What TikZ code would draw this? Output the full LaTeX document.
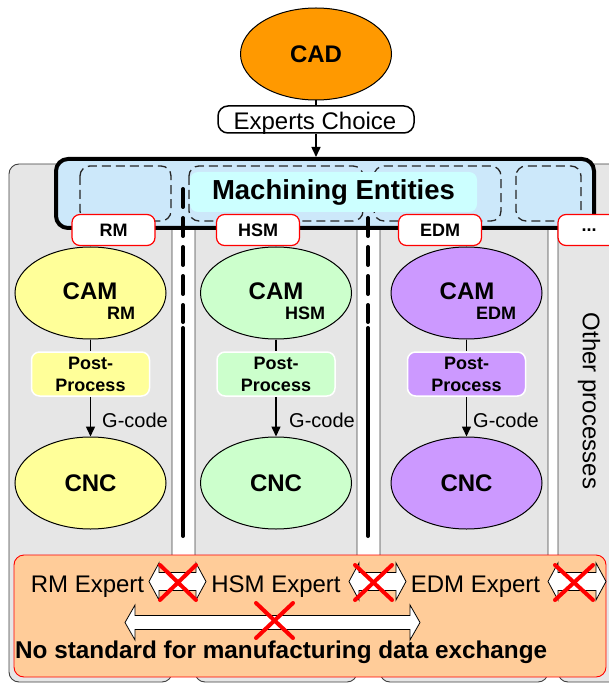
\documentclass[tikz,border=0pt]{standalone}
\usepackage{fontspec}
\setmainfont{Liberation Sans}
\usetikzlibrary{arrows.meta,shapes.geometric}
\definecolor{cadorange}{RGB}{255,153,0}
\definecolor{meblue}{RGB}{204,232,250}
\definecolor{titlecyan}{RGB}{204,255,255}
\definecolor{lanegray}{RGB}{230,230,230}
\definecolor{rmyellow}{RGB}{255,255,153}
\definecolor{hsmgreen}{RGB}{204,255,204}
\definecolor{edmpurple}{RGB}{204,153,255}
\definecolor{peach}{RGB}{255,204,153}
\newcommand{\myfs}[1]{\fontsize{#1}{#1}\selectfont}
% double block arrow: x1 x2 yc shafthalf headhalf headlen
\newcommand{\dblarr}[6]{%
  \draw[dblarrowstyle] (#1,#3) -- ({#1+#6},{#3-#5}) -- ({#1+#6},{#3-#4}) -- ({#2-#6},{#3-#4}) -- ({#2-#6},{#3-#5}) -- (#2,#3) -- ({#2-#6},{#3+#5}) -- ({#2-#6},{#3+#4}) -- ({#1+#6},{#3+#4}) -- ({#1+#6},{#3+#5}) -- cycle;}
\newcommand{\redx}[4]{\draw[redcross] (#1,#2) -- (#3,#4) (#1,#4) -- (#3,#2);}
\begin{document}
\begin{tikzpicture}[x=1pt,y=-1pt,
  lane/.style={draw=black!75, fill=lanegray, line width=0.9pt, rounded corners=10pt},
  gapline/.style={line width=4pt, line cap=round},
  dbox/.style={draw=black!85, line width=1.3pt, dash pattern=on 9pt off 5pt, rounded corners=10pt},
  tab/.style={draw=red, fill=white, line width=1.2pt, rounded corners=8pt, minimum width=83pt, minimum height=31pt, inner sep=0pt, font=\bfseries\myfs{18}},
  ell/.style={ellipse, draw=black, line width=1pt, minimum width=151pt, minimum height=92pt, inner sep=0pt},
  post/.style={draw=white, line width=1.5pt, rounded corners=8pt, minimum width=118pt, minimum height=44pt, inner sep=0pt, align=center, font=\bfseries\fontsize{18}{22}\selectfont},
  conn/.style={line width=1.5pt},
  arr/.style={line width=1.5pt, -{Triangle[length=10pt,width=9pt]}},
  big/.style={font=\bfseries\myfs{24}, inner sep=0pt},
  sub/.style={font=\bfseries\myfs{18}, inner sep=0pt},
  gtext/.style={font=\myfs{20}, inner sep=0pt, anchor=west},
  plain/.style={font=\myfs{24}, inner sep=0pt},
  dblarrowstyle/.style={draw=black, fill=white, line width=0.8pt, line join=miter},
  redcross/.style={draw=red, line width=4pt, line cap=round}
]
\useasboundingbox (0,0) rectangle (609,684);
\clip (0,0) rectangle (609,684);

% lanes
\draw[lane] (9,164) rectangle (172,682);
\draw[lane] (195,164) rectangle (357,682);
\draw[lane] (380,164) rectangle (548,682);
\draw[lane] (558,164) rectangle (630,682);

% machining entities box
\node[draw, line width=4pt, fill=meblue, rounded corners=12pt, minimum width=538pt, minimum height=69pt] (me) at (325,193.5) {};

% gap lines
\draw[gapline, dash pattern=on 18pt off 11pt] (183,189) -- (183,322);
\draw[gapline] (183,328) -- (183,536);
\draw[gapline, dash pattern=on 18pt off 11pt] (368,189) -- (368,322);
\draw[gapline] (368,328) -- (368,536);

% dashed entity boxes
\draw[dbox] (80,166) rectangle (171,221);
\draw[dbox] (189,166) rectangle (363,221);
\draw[dbox] (374,166) rectangle (501,221);
\draw[dbox] (516,166) rectangle (581,221);

% title
\node[fill=titlecyan, rounded corners=8pt, minimum width=287pt, minimum height=40pt, inner sep=0pt, font=\bfseries\myfs{27.5}, text height=20pt, text depth=5pt] (title) at (333.5,192) {Machining Entities};

% tabs
\node[tab] (tRM) at (113.5,230) {RM};
\node[tab] (tHSM) at (258,230) {HSM};
\node[tab] (tEDM) at (440,230) {EDM};
\node[tab, minimum width=62pt] (tdots) at (589,230) {...};

% CAD and experts choice
\node[ell, fill=cadorange, font=\bfseries\myfs{24}] (cad) at (316,54) {CAD};
\node[draw, line width=1.5pt, rounded corners=10pt, minimum width=196pt, minimum height=27pt, inner sep=0pt] (exp) at (316,119.5) {};
\node[plain, anchor=base] (expt) at (315,130) {Experts Choice};
\draw[conn] (cad.south) -- (exp.north);
\draw[arr] (exp.south) -- (exp.south |- me.north);

% lane 1: RM
\node[ell, fill=rmyellow] (camRM) at (90.5,293) {};
\node[big] (camRMt) at (90,291) {CAM};
\node[sub] (camRMs) at (121,313.5) {RM};
\node[post, fill=rmyellow] (ppRM) at (90.5,374) {Post-\\Process};
\node[ell, fill=rmyellow] (cncRM) at (90.5,483) {};
\node[big] (cncRMt) at (90.5,483) {CNC};
\draw[conn] (camRM.south) -- (ppRM.north);
\draw[arr] (ppRM.south) -- (cncRM.north);
\node[gtext] (gRM) at (102,420) {G-code};

% lane 2: HSM
\node[ell, fill=hsmgreen] (camHSM) at (276,293) {};
\node[big] (camHSMt) at (276,291) {CAM};
\node[sub] (camHSMs) at (305,313.5) {HSM};
\node[post, fill=hsmgreen] (ppHSM) at (276,374) {Post-\\Process};
\node[ell, fill=hsmgreen] (cncHSM) at (276,483) {};
\node[big] (cncHSMt) at (276,483) {CNC};
\draw[conn] (camHSM.south) -- (ppHSM.north);
\draw[arr] (ppHSM.south) -- (cncHSM.north);
\node[gtext] (gHSM) at (289,420) {G-code};

% lane 3: EDM
\node[ell, fill=edmpurple] (camEDM) at (466.5,293) {};
\node[big] (camEDMt) at (467,291) {CAM};
\node[sub] (camEDMs) at (496,313.5) {EDM};
\node[post, fill=edmpurple] (ppEDM) at (466.5,374) {Post-\\Process};
\node[ell, fill=edmpurple] (cncEDM) at (466.5,483) {};
\node[big] (cncEDMt) at (466.5,483) {CNC};
\draw[conn] (camEDM.south) -- (ppEDM.north);
\draw[arr] (ppEDM.south) -- (cncEDM.north);
\node[gtext] (gEDM) at (473,420) {G-code};

% other processes
\node[plain, rotate=-90] (other) at (589,401) {Other processes};

% bottom box
\node[draw=red, line width=0.9pt, fill=peach, rounded corners=10pt, minimum width=592pt, minimum height=122pt] (bottom) at (310,616) {};
\node[plain, anchor=base] (eRM) at (87.5,592) {RM Expert};
\node[plain, anchor=base] (eHSM) at (276,592) {HSM Expert};
\node[plain, anchor=base] (eEDM) at (475.5,592) {EDM Expert};

\dblarr{149}{206}{581.5}{9}{18.5}{10}
\dblarr{349}{406}{581.5}{9}{18.5}{10}
\dblarr{548}{606}{581.5}{9}{18.5}{10}
\dblarr{125}{420}{622.5}{7}{17.5}{10}

\redx{160}{565}{196}{600}
\redx{355}{565}{392}{600}
\redx{555}{565}{593}{600}
\redx{256}{603}{293}{638}

\node[font=\bfseries\myfs{24.3}, inner sep=0pt, anchor=base west] (nostd) at (15,658) {No standard for manufacturing data exchange};
\end{tikzpicture}
\end{document}
